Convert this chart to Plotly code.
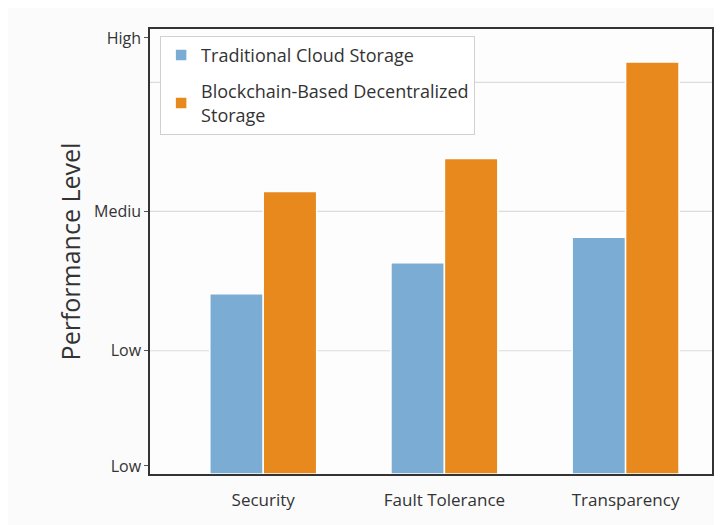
import plotly.graph_objects as go

categories = ["Security", "Fault Tolerance", "Transparency"]
traditional = [4.05, 4.75, 5.32]
blockchain = [6.35, 7.09, 9.26]
series_names = ["Traditional Cloud Storage", "Blockchain-Based Decentralized<br>Storage"]

y_tick_vals = [0.18, 2.77, 5.9, 9.8]
y_tick_text = ["Low", "Low", "Mediu", "High"]
grid_vals = [2.77, 5.9, 8.8]

blue = "#7badd4"
orange = "#e8891e"
font = "Open Sans"

fig = go.Figure()
fig.add_trace(go.Bar(x=categories, y=traditional, name=series_names[0], legendgroup="a",
                     marker=dict(color=blue, line=dict(color="white", width=1.5))))
fig.add_trace(go.Bar(x=categories, y=blockchain, name=series_names[1], legendgroup="b",
                     marker=dict(color=orange, line=dict(color="white", width=1.5))))

for g in grid_vals:
    fig.add_shape(type="line", xref="paper", x0=0, x1=1, yref="y", y0=g, y1=g,
                  line=dict(color="#dcdcdc", width=1.2), layer="below")

fig.update_layout(
    width=714, height=517,
    margin=dict(l=142, r=8, t=21, b=51),
    paper_bgcolor="#fbfbfb",
    plot_bgcolor="#fdfdfd",
    font=dict(family=font, color="#333333", size=15),
    barmode="group",
    bargap=0.41,
    bargroupgap=0,
    showlegend=True,
    legend=dict(x=0.018, y=0.985, xanchor="left", yanchor="top",
                bgcolor="#ffffff", bordercolor="#d0d0d0", borderwidth=1,
                font=dict(size=18, family=font, color="#333333"),
                itemwidth=30, traceorder="grouped", tracegroupgap=10),
    xaxis=dict(range=[-0.625, 2.477], showline=True, linecolor="#333333", linewidth=1.5,
               mirror=True, ticks="", tickfont=dict(size=17), showgrid=False,
               ticklabelstandoff=10),
    yaxis=dict(range=[0, 10], tickvals=y_tick_vals, ticktext=y_tick_text,
               showgrid=False, zeroline=False, showline=True, linecolor="#333333",
               linewidth=1.5, mirror=True, ticks="outside", ticklen=4, tickcolor="#555555",
               tickfont=dict(size=16),
               title=dict(text="Performance Level", font=dict(size=25, color="#333333"),
                          standoff=6)),
)

fig.write_html("out.html")
